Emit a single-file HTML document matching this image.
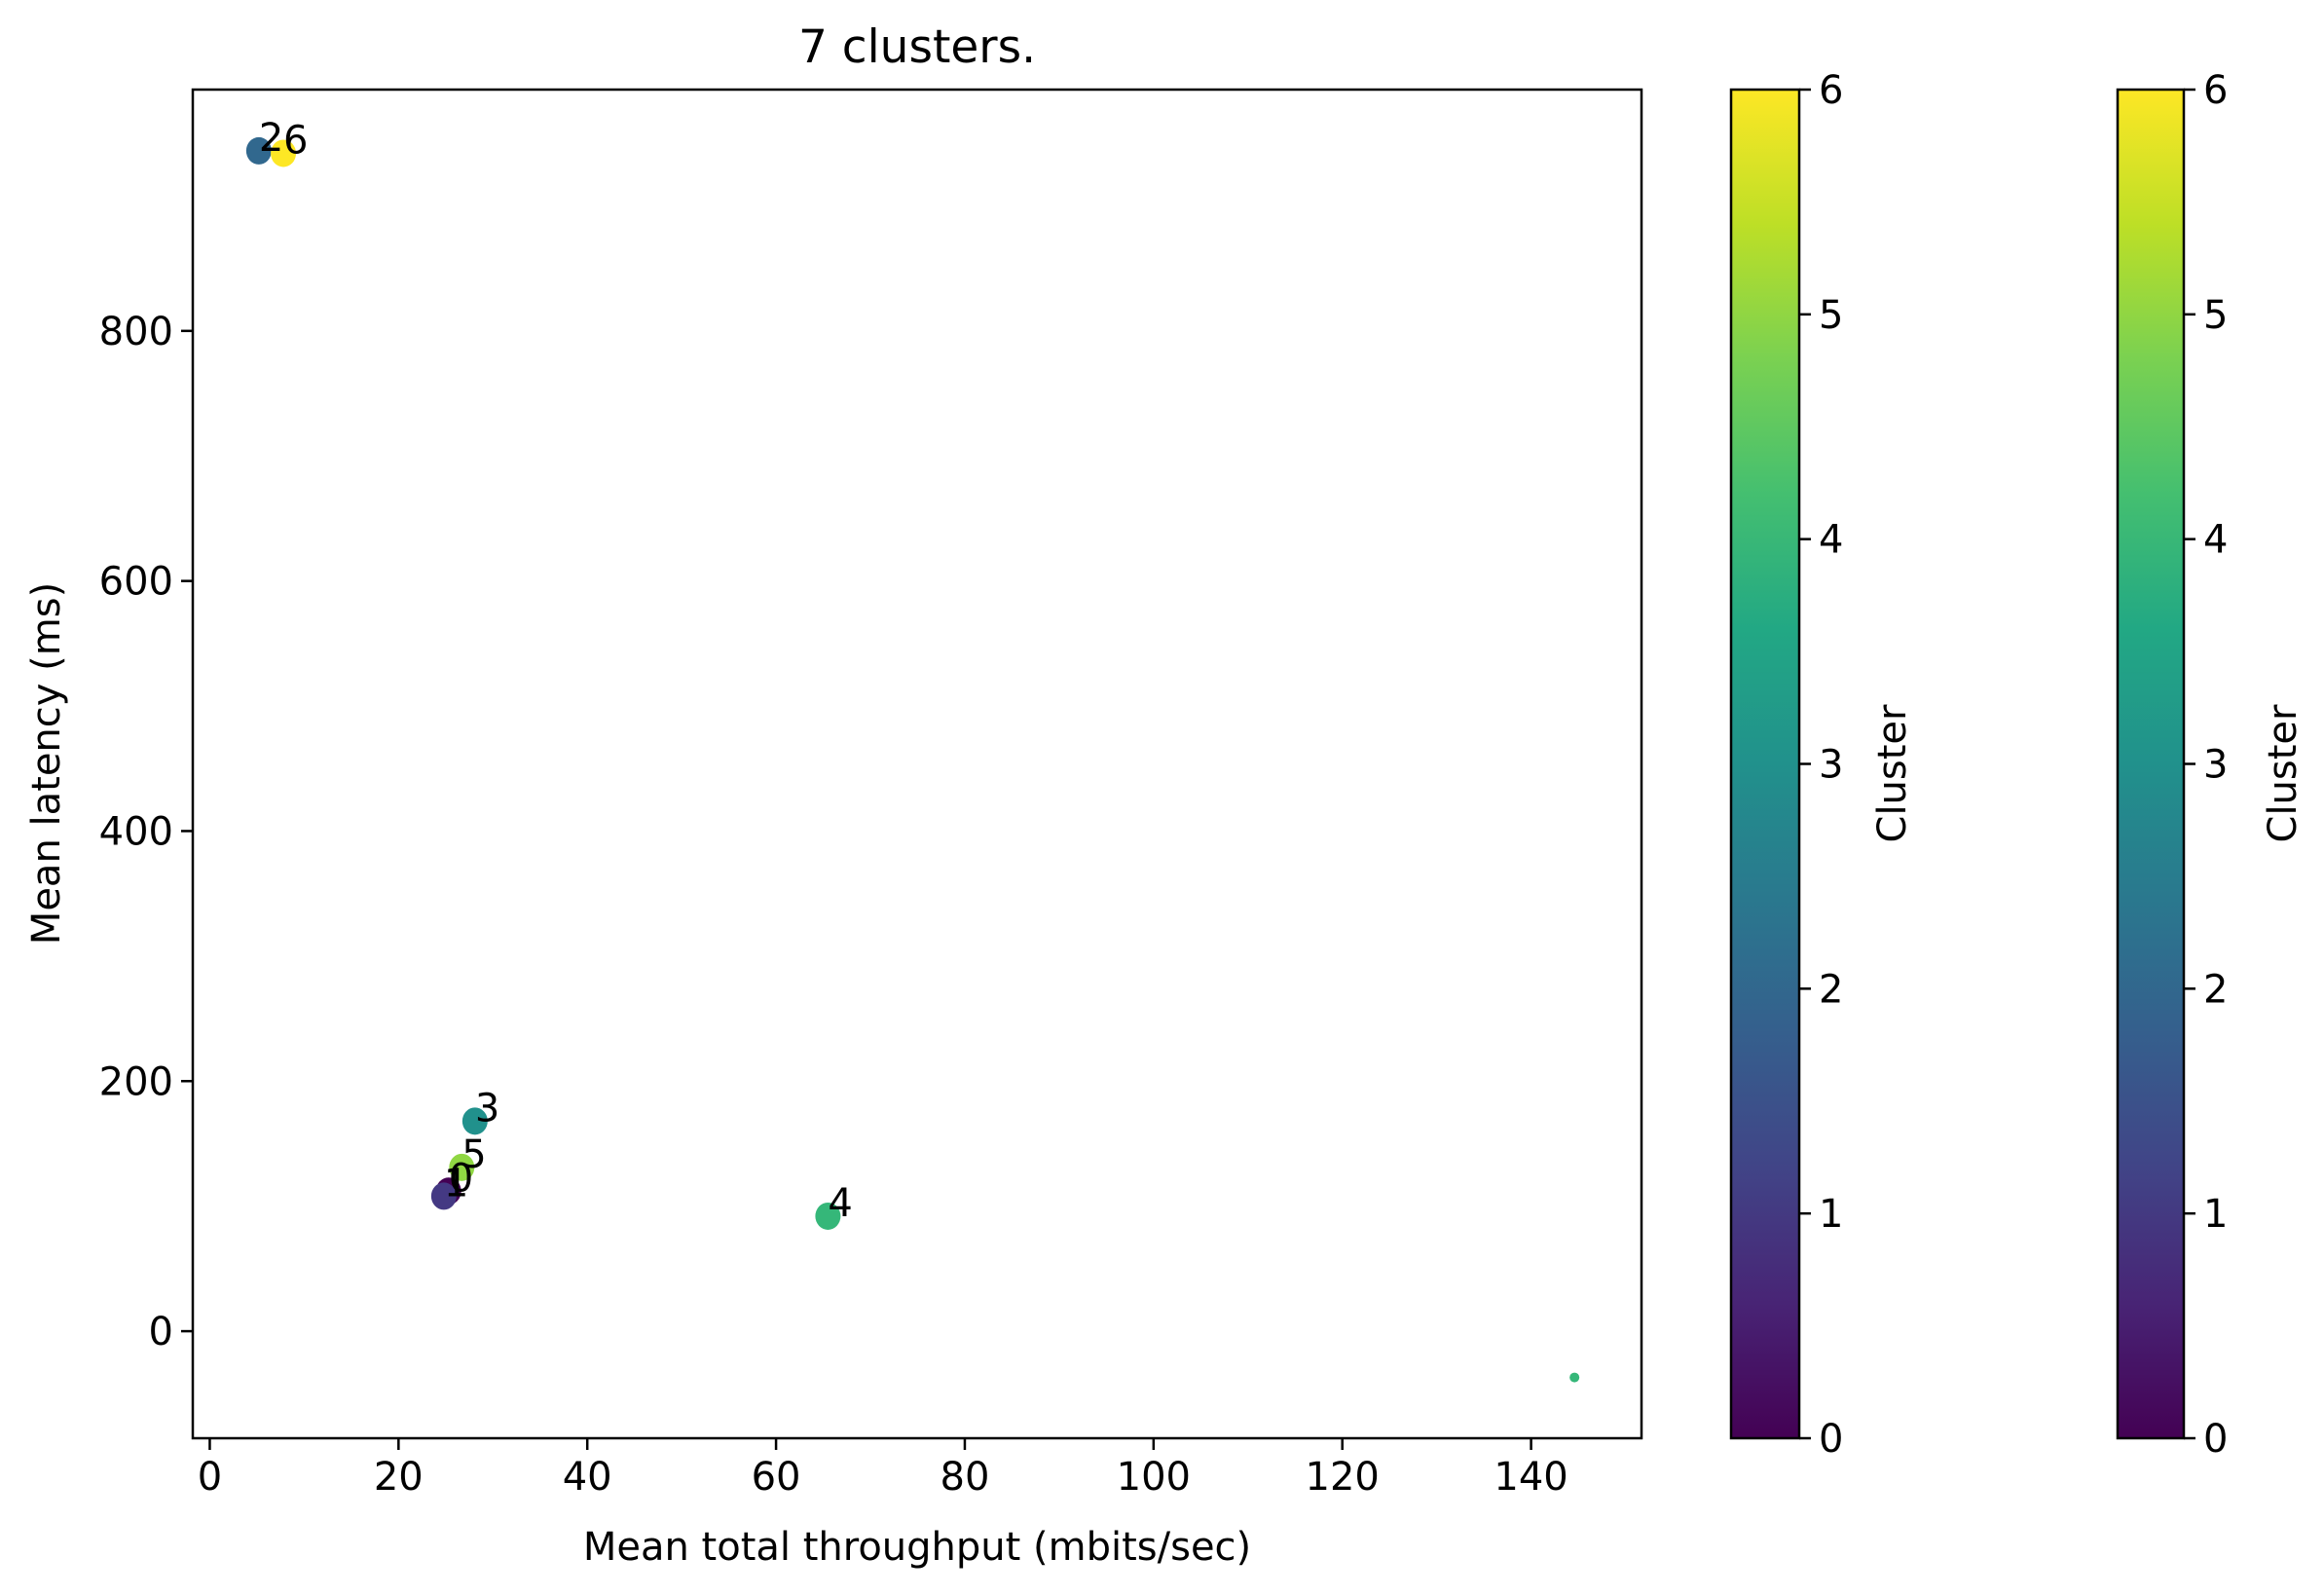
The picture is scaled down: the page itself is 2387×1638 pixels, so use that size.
<!DOCTYPE html>
<html><head><meta charset="utf-8"><style>
html,body{margin:0;padding:0;background:#fff;}
svg{display:block;font-family:"DejaVu Sans","Liberation Sans",sans-serif;}
</style></head><body>
<svg id="chart" width="2387" height="1638" viewBox="0 0 2387 1638" xmlns="http://www.w3.org/2000/svg">
<defs>
<linearGradient id="viridis" x1="0" y1="1" x2="0" y2="0">
<stop offset="0" stop-color="#440154"/><stop offset="0.1" stop-color="#482475"/>
<stop offset="0.2" stop-color="#414487"/><stop offset="0.3" stop-color="#355f8d"/>
<stop offset="0.4" stop-color="#2a788e"/><stop offset="0.5" stop-color="#21918c"/>
<stop offset="0.6" stop-color="#22a884"/><stop offset="0.7" stop-color="#44bf70"/>
<stop offset="0.8" stop-color="#7ad151"/><stop offset="0.9" stop-color="#bddf26"/>
<stop offset="1" stop-color="#fde725"/>
</linearGradient>
</defs>
<text x="942" y="64" font-size="47" text-anchor="middle">7 clusters.</text>
<g id="plot"></g>
<text x="942" y="1602" font-size="40" text-anchor="middle">Mean total throughput (mbits/sec)</text>
<text transform="translate(61,784) rotate(-90)" font-size="40" text-anchor="middle">Mean latency (ms)</text>
</svg>
<script>
const clusterIds = [0, 1, 2, 3, 4, 5, 6];
const throughput = [25.3, 24.8, 5.2, 28.1, 65.5, 26.7, 7.8];
const latency = [112, 108, 944, 168, 92, 131, 942];
const extraX = [144.6];
const extraY = [-37];
const extraCluster = [4];
const xTicks = [0, 20, 40, 60, 80, 100, 120, 140];
const yTicks = [0, 200, 400, 600, 800];
const cbTicks = [0, 1, 2, 3, 4, 5, 6];
const colors = ['#440154','#443983','#31688e','#21918c','#35b779','#90d743','#fde725'];

const L=198,R=1686,T=92,B=1477;
const xMin=-1.8,xMax=151.7,yMin=-85.6,yMax=993;
const sx=v=>L+(v-xMin)/(xMax-xMin)*(R-L);
const sy=v=>B-(v-yMin)/(yMax-yMin)*(B-T);
const NS='http://www.w3.org/2000/svg';
const g=document.getElementById('plot');
function mk(tag,attrs,parent,text){const e=document.createElementNS(NS,tag);for(const k in attrs)e.setAttribute(k,attrs[k]);if(text!==undefined)e.textContent=text;(parent||g).appendChild(e);return e;}

clusterIds.forEach((c,i)=>{
  const p=mk('ellipse',{cx:sx(throughput[i]),cy:sy(latency[i]),rx:13,ry:14,fill:colors[c]});
  
  
});
extraX.forEach((v,i)=>{
  const p=mk('circle',{cx:sx(v),cy:sy(extraY[i]),r:5,fill:colors[extraCluster[i]]});
  
  
});
clusterIds.forEach((c,i)=>{
  const t=mk('text',{x:sx(throughput[i]),y:sy(latency[i]),'font-size':40},g,String(c));
  
  
});
const fr=mk('rect',{x:L,y:T,width:R-L,height:B-T,fill:'none',stroke:'#000','stroke-width':2.5});


xTicks.forEach(v=>{
  const l=mk('line',{x1:sx(v),x2:sx(v),y1:B,y2:B+12,stroke:'#000','stroke-width':2.5});
  
  
  const t=mk('text',{x:sx(v),y:B+53,'font-size':40,'text-anchor':'middle'},g,String(v));
  
  
});
yTicks.forEach(v=>{
  const l=mk('line',{x1:L-12,x2:L,y1:sy(v),y2:sy(v),stroke:'#000','stroke-width':2.5});
  
  
  const t=mk('text',{x:L-20,y:sy(v)+14,'font-size':40,'text-anchor':'end'},g,String(v));
  
  
});
[[1778,1848,1951],[2175,2243,2352]].forEach(([x0,x1,lx],k)=>{
  const r=mk('rect',{x:x0,y:T,width:x1-x0,height:B-T,fill:'url(#viridis)',stroke:'#000','stroke-width':2.5});
  
  
  cbTicks.forEach(v=>{
    const y=B-(v-0)/6*(B-T);
    const l=mk('line',{x1:x1,x2:x1+12,y1:y,y2:y,stroke:'#000','stroke-width':2.5});
    
    
    const t=mk('text',{x:x1+20,y:y+14,'font-size':40},g,String(v));
    
    
  });
  const lb=mk('text',{transform:`translate(${lx+6},${(T+B)/2+10}) rotate(-90)`,'font-size':40,'text-anchor':'middle'},g,'Cluster');
  
  
});
</script>
</body></html>
